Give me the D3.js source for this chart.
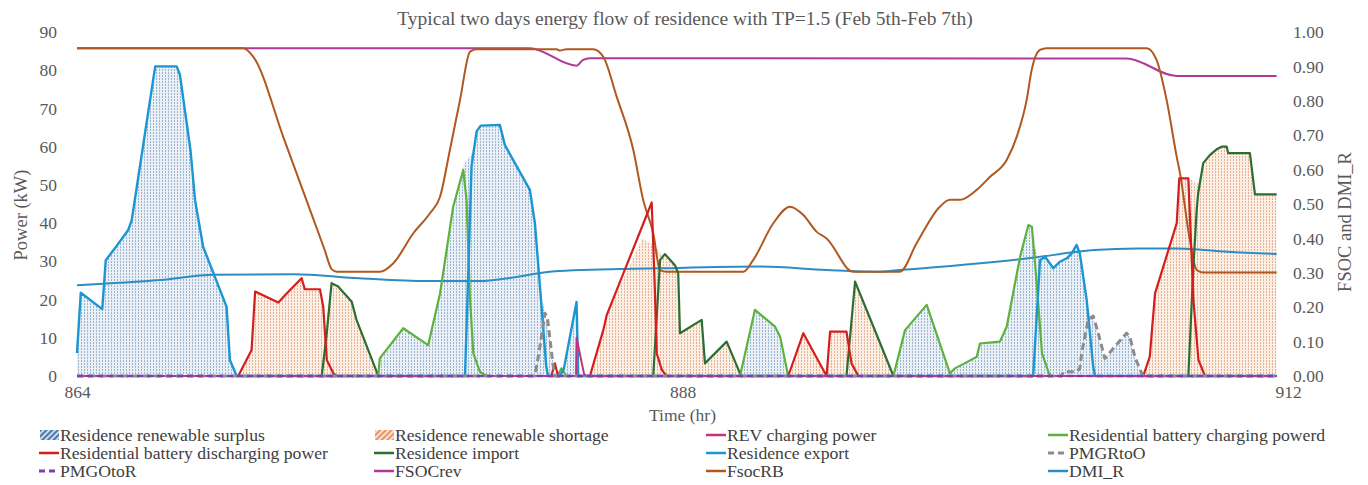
<!DOCTYPE html>
<html>
<head>
<meta charset="utf-8">
<script src="https://cdn.jsdelivr.net/npm/d3@7"></script>
<style>
  html, body { margin: 0; padding: 0; background: #fff; }
  svg { display: block; font-family: "Liberation Serif", "Times New Roman", serif; }
</style>
</head>
<body>
<svg id="chart" width="1368" height="485"></svg>
<script>
// ---- Data: [hour, value] pairs per series ----
const hourTicks = [864, 888, 912];
const powerTicks = [0, 10, 20, 30, 40, 50, 60, 70, 80, 90];
const fracTicks = [0, 0.1, 0.2, 0.3, 0.4, 0.5, 0.6, 0.7, 0.8, 0.9, 1.0];

// Residence renewable surplus (kW)
const surplus = [[864,6],[864.15,21.8],[865.0,17.5],[865.14,30.3],[865.5,33.4],[866.03,38.2],[866.17,40.8],[867.1,81],[867.95,81],[868.08,78.8],[868.5,59],[868.68,46],[869.0,33.8],[869.93,18.1],[870.06,4.2],[870.33,0],[875.94,0],[876.0,4.6],[876.93,12.5],[877.92,8.1],[878.39,21.6],[878.91,44.3],[879.31,55],[879.5,57],[879.64,58],[879.84,64],[880.0,65.5],[880.76,65.7],[880.96,60.4],[881.95,48.7],[882.15,40],[882.35,23.4],[882.55,16.4],[882.75,9.4],[882.95,0],[883.15,0],[883.3,2],[883.8,19.4],[883.87,0],[890.28,0],[890.87,17.3],[891.67,12.9],[891.87,10.3],[892.19,0],[896.36,0],[896.82,12],[897.68,18.6],[898.6,0.7],[898.8,2],[899.66,5],[899.79,8.5],[900.58,9],[900.85,12.9],[901.38,31.2],[901.71,39.5],[901.85,39],[902.0,33],[902.17,30.3],[902.37,31.2],[902.7,28.2],[902.96,29.9],[903.23,30.8],[903.43,32.1],[903.62,34.3],[903.75,32],[904.02,19.9],[904.15,15.5],[904.28,15.7],[904.48,11.2],[904.74,4.6],[905.07,7.2],[905.6,11.2],[905.73,10.3],[905.93,5],[906.2,0.7],[906.25,0],[911.55,0]];

// Residence renewable shortage (kW)
const shortage = [[864,0],[870.33,0],[870.39,0.5],[870.92,6.8],[871.06,22.1],[871.98,19.2],[872.31,21.6],[872.9,25.6],[873.03,22.7],[873.63,22.7],[873.76,18.1],[873.86,13],[874.09,24.3],[874.35,23.4],[874.89,19.4],[875.08,14.7],[875.88,1.1],[875.94,0],[884.33,0],[884.86,12],[885.0,16],[886.4,36],[886.9,34],[887.2,31.5],[887.3,31.9],[887.7,29],[887.83,26.9],[887.9,11.2],[888.76,14.7],[888.89,3.3],[889.75,9],[890.28,0.7],[890.32,0],[892.19,0],[892.79,11.2],[893.71,0],[893.85,11.6],[894.5,11.6],[894.6,9],[894.84,24.7],[895.5,14],[896.36,0],[906.26,0],[906.52,5],[906.73,21.6],[907.59,40],[907.69,51.7],[908.05,51.7],[908.25,51],[908.38,50],[908.5,52],[908.64,55.7],[908.9,57.8],[909.17,59.3],[909.37,60],[909.57,60],[909.63,58.3],[910.49,58.3],[910.69,47.5],[911.55,47.5]];

// REV charging power (kW)
const revCharging = [[864,0],[883.78,0],[883.8,10],[884.1,0.5],[884.2,0],[911.55,0]];

// Residential battery charging power (kW)
const batteryCharging = [[864,0],[875.94,0],[876.0,4.6],[876.93,12.5],[877.92,8.1],[878.39,21.6],[878.91,44.3],[879.31,53.9],[879.44,46],[879.58,19.9],[879.71,5.9],[879.97,1.1],[880.24,0],[883.05,0],[883.2,2],[883.4,0],[890.28,0],[890.87,17.3],[891.67,12.9],[891.87,10.3],[892.19,0],[896.36,0],[896.82,12],[897.68,18.6],[898.6,0.7],[898.8,2],[899.66,5],[899.79,8.5],[900.58,9],[900.85,12.9],[901.38,31.2],[901.71,39.5],[901.85,39],[902.05,23.4],[902.25,5.9],[902.56,0],[911.55,0]];

// Residential battery discharging power (kW)
const batteryDischarging = [[864,0],[870.39,0],[870.92,6.8],[871.06,22.1],[871.98,19.2],[872.31,21.6],[872.9,25.6],[873.03,22.7],[873.63,22.7],[873.76,18.1],[873.9,4.2],[874.16,0.7],[874.3,0],[882.8,0],[882.94,3.3],[883.07,0],[884.33,0],[884.86,12],[885.0,16],[886.78,45.4],[886.91,21.6],[886.98,5.9],[887.18,1.6],[887.37,0],[892.19,0],[892.79,11.2],[893.71,0],[893.85,11.6],[894.5,11.6],[894.7,3.3],[894.97,0],[906.26,0],[906.52,5],[906.73,21.6],[907.59,40],[907.69,51.7],[908.05,51.7],[908.25,19.9],[908.45,4.2],[908.71,0],[911.55,0]];

// Residence import (kW)
const residenceImport = [[864,0],[873.7,0],[873.9,11.2],[874.09,24.3],[874.35,23.4],[874.89,19.4],[875.08,14.7],[875.88,1.1],[875.94,0],[886.84,0],[887.11,30.3],[887.3,31.9],[887.7,29],[887.83,26.9],[887.9,11.2],[888.76,14.7],[888.89,3.3],[889.75,9],[890.28,0.7],[890.32,0],[894.5,0],[894.84,24.7],[895.5,14],[896.36,0],[908.05,0],[908.25,28.6],[908.38,43.4],[908.44,47.8],[908.64,55.7],[908.9,57.8],[909.17,59.3],[909.37,60],[909.57,60],[909.63,58.3],[910.49,58.3],[910.69,47.5],[911.55,47.5]];

// Residence export (kW)
const residenceExport = [[864,6],[864.15,21.8],[865.0,17.5],[865.14,30.3],[865.5,33.4],[866.03,38.2],[866.17,40.8],[867.1,81],[867.95,81],[868.08,78.8],[868.5,59],[868.68,46],[869.0,33.8],[869.93,18.1],[870.06,4.2],[870.33,0],[879.38,0],[879.64,55],[879.84,64],[880.0,65.5],[880.76,65.7],[880.96,60.4],[881.95,48.7],[882.15,40],[882.35,23.4],[882.6,2.4],[882.67,0],[883.15,0],[883.3,2],[883.8,19.4],[883.87,0],[901.9,0],[902.17,30.3],[902.37,31.2],[902.7,28.2],[902.96,29.9],[903.23,30.8],[903.43,32.1],[903.62,34.3],[903.75,32],[904.02,19.9],[904.28,2.4],[904.35,0],[911.55,0]];

// PMGRtoO (kW)
const pmgrToO = [[864,0],[882.15,0],[882.35,7.7],[882.55,16.4],[882.64,15.5],[882.75,9.4],[882.88,2.4],[882.95,0],[903.03,0],[903.09,1.1],[903.62,1.1],[903.75,2],[903.82,5.9],[904.08,14.7],[904.28,15.7],[904.48,11.2],[904.74,4.6],[905.07,7.2],[905.6,11.2],[905.73,10.3],[905.93,5],[906.2,0.7],[906.25,0],[911.55,0]];

// PMGOtoR (kW)
const pmgoToR = [[864,0],[911.55,0]];

// FSOCrev (fraction)
const fsocRev = [[864,0.953],[881.95,0.953],[883.8,0.902],[884.06,0.919],[884.33,0.924],[905.6,0.923],[907.59,0.872],[911.55,0.872]];

// FsocRB (fraction)
const fsocRB = [[864,0.953],[870.59,0.953],[870.99,0.928],[872.2,0.69],[873.0,0.53],[873.8,0.37],[874.1,0.31],[874.3,0.303],[876.0,0.303],[876.54,0.328],[877.33,0.415],[877.99,0.473],[878.39,0.521],[878.78,0.657],[879.18,0.802],[879.58,0.943],[879.84,0.95],[883.01,0.95],[883.14,0.946],[883.4,0.95],[884.46,0.95],[884.86,0.928],[885.39,0.812],[886.05,0.657],[886.44,0.512],[886.84,0.415],[887.11,0.308],[887.37,0.303],[890.41,0.303],[890.8,0.337],[891.6,0.444],[892.26,0.492],[892.79,0.468],[893.32,0.419],[893.71,0.40],[894.77,0.303],[896.62,0.303],[897.28,0.386],[898.2,0.492],[898.6,0.512],[899.0,0.512],[899.66,0.541],[900.19,0.579],[900.85,0.628],[901.25,0.696],[901.64,0.802],[901.84,0.89],[902.17,0.948],[902.43,0.953],[906.4,0.953],[906.79,0.919],[907.19,0.802],[907.59,0.637],[907.72,0.589],[908.11,0.395],[908.38,0.308],[908.64,0.301],[911.55,0.301]];

// DMI_R (fraction)
const dmiR = [[864,0.264],[867.3,0.279],[869.4,0.294],[872.6,0.296],[875.2,0.284],[877.9,0.276],[879.9,0.276],[883.1,0.305],[887.1,0.313],[891.1,0.318],[893.7,0.308],[895.7,0.303],[896.6,0.308],[901.7,0.342],[904.3,0.366],[906.0,0.371],[907.6,0.371],[909.6,0.361],[911.55,0.355]];

// ---- Layout ----
const svg = d3.select("#chart");
const plot = { left: 77, right: 1288, top: 32, bottom: 376 };
const textColor = "#595959";

const x = d3.scaleLinear().domain([864, 912]).range([plot.left, plot.right]);
const yL = d3.scaleLinear().domain([0, 90]).range([plot.bottom, plot.top]);
const yR = d3.scaleLinear().domain([0, 1]).range([plot.bottom, plot.top]);

// ---- Fill patterns ----
const defs = svg.append("defs");
function stipple(id, bg, dot) {
  const p = defs.append("pattern").attr("id", id).attr("patternUnits", "userSpaceOnUse")
    .attr("width", 3).attr("height", 3);
  p.append("rect").attr("width", 3).attr("height", 3).attr("fill", bg);
  p.append("rect").attr("x", 0).attr("y", 0).attr("width", 1).attr("height", 2).attr("fill", dot);
}
stipple("surplusFill", "#eaf0f6", "#98b6d2");
stipple("shortageFill", "#fcefe6", "#e8b193");
function hatch(id, bg, line) {
  const p = defs.append("pattern").attr("id", id).attr("patternUnits", "userSpaceOnUse")
    .attr("width", 4).attr("height", 4).attr("patternTransform", "rotate(45)");
  p.append("rect").attr("width", 4).attr("height", 4).attr("fill", bg);
  p.append("rect").attr("width", 2).attr("height", 4).attr("fill", line);
}
hatch("surplusHatch", "#c9dcee", "#4a78ad");
hatch("shortageHatch", "#fbe0cf", "#e8956a");

// ---- Areas ----
const areaL = d3.area().x(d => x(d[0])).y0(yL(0)).y1(d => yL(d[1]));
svg.append("path").datum(surplus).attr("d", areaL).attr("fill", "url(#surplusFill)");
svg.append("path").datum(shortage).attr("d", areaL).attr("fill", "url(#shortageFill)");

// ---- Lines ----
const lineL = d3.line().x(d => x(d[0])).y(d => yL(d[1]));
const lineR = d3.line().x(d => x(d[0])).y(d => yR(d[1])).curve(d3.curveMonotoneX);

const colors = {
  rev: "#c3307f",
  charge: "#5db13f",
  discharge: "#d41e1e",
  imp: "#2c6e31",
  exp: "#1c96d3",
  pmgr: "#8c8c8c",
  pmgo: "#7a3fb3",
  fsocRev: "#b2399a",
  fsocRB: "#b0581f",
  dmi: "#2d8cc4"
};

function drawL(data, color, width, dash) {
  const p = svg.append("path").datum(data).attr("d", lineL)
    .attr("fill", "none").attr("stroke", color).attr("stroke-width", width)
    .attr("stroke-linejoin", "round");
  if (dash) p.attr("stroke-dasharray", dash);
}
function drawR(data, color, width) {
  svg.append("path").datum(data).attr("d", lineR)
    .attr("fill", "none").attr("stroke", color).attr("stroke-width", width)
    .attr("stroke-linejoin", "round");
}

drawR(dmiR, colors.dmi, 2);
drawR(fsocRev, colors.fsocRev, 2);
drawR(fsocRB, colors.fsocRB, 2);
drawL(residenceImport, colors.imp, 2.2);
drawL(batteryCharging, colors.charge, 2.2);
drawL(batteryDischarging, colors.discharge, 2.2);
drawL(residenceExport, colors.exp, 2.4);
drawL(revCharging, colors.rev, 2);
drawL(pmgrToO, colors.pmgr, 3, "7,4");
drawL(pmgoToR, colors.pmgo, 2.5, "6,4");

// ---- Axes ----
const axL = svg.append("g").attr("transform", `translate(${plot.left},0)`)
  .call(d3.axisLeft(yL).tickValues(powerTicks).tickSize(0).tickPadding(20));
const axR = svg.append("g").attr("transform", `translate(${plot.right},0)`)
  .call(d3.axisRight(yR).tickValues(fracTicks).tickSize(0).tickPadding(5).tickFormat(d3.format(".2f")));
const axB = svg.append("g").attr("transform", `translate(0,${plot.bottom})`)
  .call(d3.axisBottom(x).tickValues(hourTicks).tickSize(0).tickPadding(10).tickFormat(d3.format("d")));
[axL, axR, axB].forEach(a => {
  a.select(".domain").remove();
  a.selectAll("text").attr("fill", textColor).style("font-size", "17.5px")
    .style("font-family", '"Liberation Serif", serif');
});

// ---- Titles ----
svg.append("text").attr("x", 685).attr("y", 25).attr("text-anchor", "middle")
  .attr("fill", textColor).style("font-size", "19.5px")
  .text("Typical two days energy flow of residence with TP=1.5 (Feb 5th-Feb 7th)");
svg.append("text").attr("x", x(888)).attr("y", 421).attr("text-anchor", "middle")
  .attr("fill", textColor).style("font-size", "17.5px").text("Time (hr)");
svg.append("text").attr("transform", "translate(27,215) rotate(-90)").attr("text-anchor", "middle")
  .attr("fill", textColor).style("font-size", "18.5px").text("Power (kW)");
svg.append("text").attr("transform", "translate(1351,222) rotate(-90)").attr("text-anchor", "middle")
  .attr("fill", textColor).style("font-size", "18.5px").text("FSOC and DMI_R");

// ---- Legend ----
const legendItems = [
  { name: "Residence renewable surplus", type: "hatch", fill: "url(#surplusHatch)" },
  { name: "Residence renewable shortage", type: "hatch", fill: "url(#shortageHatch)" },
  { name: "REV charging power", type: "line", color: colors.rev },
  { name: "Residential battery charging powerd", type: "line", color: colors.charge },
  { name: "Residential battery discharging power", type: "line", color: colors.discharge },
  { name: "Residence import", type: "line", color: colors.imp },
  { name: "Residence export", type: "line", color: colors.exp },
  { name: "PMGRtoO", type: "dash", color: colors.pmgr },
  { name: "PMGOtoR", type: "dash", color: colors.pmgo },
  { name: "FSOCrev", type: "line", color: colors.fsocRev },
  { name: "FsocRB", type: "line", color: colors.fsocRB },
  { name: "DMI_R", type: "line", color: colors.dmi }
];
const colX = [60, 395, 727, 1069];
const rowY = [435, 453, 471];
const legend = svg.append("g").attr("class", "legend");
legendItems.forEach((it, i) => {
  const tx = colX[i % 4], cy = rowY[Math.floor(i / 4)];
  const g = legend.append("g");
  if (it.type === "hatch") {
    g.append("rect").attr("x", tx - 20).attr("y", cy - 5).attr("width", 19).attr("height", 10)
      .attr("fill", it.fill);
  } else {
    const l = g.append("line").attr("x1", tx - 21).attr("x2", tx - 1).attr("y1", cy).attr("y2", cy)
      .attr("stroke", it.color).attr("stroke-width", it.type === "dash" ? 3 : 2.5);
    if (it.type === "dash") l.attr("stroke-dasharray", "6,4");
  }
  const t = g.append("text").attr("x", tx).attr("y", cy + 5.5).attr("fill", "#404040")
    .style("font-size", "16.5px").text(it.name);
  // Stretch each label a little horizontally so the four columns read wider
  const w = t.node().getComputedTextLength();
  t.attr("textLength", (w * 1.07).toFixed(1)).attr("lengthAdjust", "spacingAndGlyphs");
});
</script>
</body>
</html>
